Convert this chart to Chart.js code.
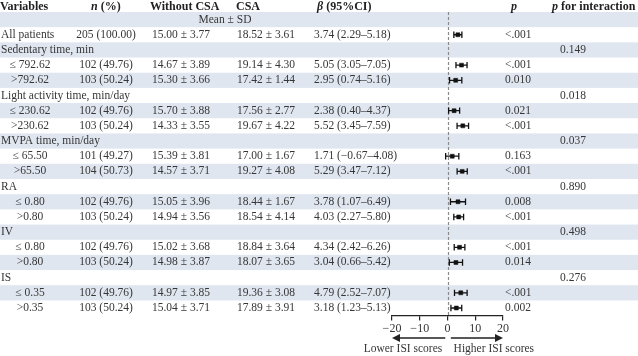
<!DOCTYPE html>
<html>
<head>
<meta charset="utf-8">
<title>Forest plot</title>
<script src="https://cdn.jsdelivr.net/npm/chart.js@4.4.0/dist/chart.umd.min.js"></script>
<style>
    body {
        margin: 0;
        padding: 0;
        background-color: #ffffff;
    }
    #wrap {
        width: 638px;
        height: 356px;
        position: relative;
    }
</style>
</head>
<body>
<div id="wrap"><canvas id="forest" width="638" height="356"></canvas></div>
<script>
// table rows, top to bottom (row 0 is the "Mean ± SD" sub-header)
var rowLabels = ["", "All patients", "Sedentary time, min", "≤ 792.62", ">792.62",
    "Light activity time, min/day", "≤ 230.62", ">230.62", "MVPA time, min/day", "≤ 65.50", ">65.50",
    "RA", "≤ 0.80", ">0.80", "IV", "≤ 0.80", ">0.80", "IS", "≤ 0.35", ">0.35"];
var rowKind = ["", "top", "group", "sub", "sub", "group", "sub", "sub", "group", "sub", "sub",
    "group", "sub", "sub", "group", "sub", "sub", "group", "sub", "sub"];
var nPct = ["", "205 (100.00)", "", "102 (49.76)", "103 (50.24)", "", "102 (49.76)", "103 (50.24)",
    "", "101 (49.27)", "104 (50.73)", "", "102 (49.76)", "103 (50.24)", "", "102 (49.76)", "103 (50.24)",
    "", "102 (49.76)", "103 (50.24)"];
var withoutCSA = ["", "15.00 ± 3.77", "", "14.67 ± 3.89", "15.30 ± 3.66", "", "15.70 ± 3.88", "14.33 ± 3.55",
    "", "15.39 ± 3.81", "14.57 ± 3.71", "", "15.05 ± 3.96", "14.94 ± 3.56", "", "15.02 ± 3.68", "14.98 ± 3.87",
    "", "14.97 ± 3.85", "15.04 ± 3.71"];
var withCSA = ["", "18.52 ± 3.61", "", "19.14 ± 4.30", "17.42 ± 1.44", "", "17.56 ± 2.77", "19.67 ± 4.22",
    "", "17.00 ± 1.67", "19.27 ± 4.08", "", "18.44 ± 1.67", "18.54 ± 4.14", "", "18.84 ± 3.64", "18.07 ± 3.65",
    "", "19.36 ± 3.08", "17.89 ± 3.91"];
var beta = [null, 3.74, null, 5.05, 2.95, null, 2.38, 5.52, null, 1.71, 5.29, null, 3.78, 4.03, null, 4.34, 3.04, null, 4.79, 3.18];
var ciLow = [null, 2.29, null, 3.05, 0.74, null, 0.40, 3.45, null, -0.67, 3.47, null, 1.07, 2.27, null, 2.42, 0.66, null, 2.52, 1.23];
var ciHigh = [null, 5.18, null, 7.05, 5.16, null, 4.37, 7.59, null, 4.08, 7.12, null, 6.49, 5.80, null, 6.26, 5.42, null, 7.07, 5.13];
var pValue = ["", "<.001", "", "<.001", "0.010", "", "0.021", "<.001", "", "0.163", "<.001", "", "0.008", "<.001",
    "", "<.001", "0.014", "", "<.001", "0.002"];
var pInteraction = ["", "", "0.149", "", "", "0.018", "", "", "0.037", "", "", "0.890", "", "", "0.498", "", "", "0.276", "", ""];
var xTicks = [-20, -10, 0, 10, 20];

var FONT = "'Liberation Serif', 'DejaVu Serif', serif";
var TXT = "#363636";

function fmt(v) {
    var s = Math.abs(v).toFixed(2);
    return v < 0 ? "\u2212" + s : s;
}

var meanPts = [], capPts = [], ciLine = [];
for (var i = 0; i < beta.length; i++) {
    if (beta[i] === null) continue;
    meanPts.push({x: beta[i], y: i});
    capPts.push({x: ciLow[i], y: i});
    capPts.push({x: ciHigh[i], y: i});
    ciLine.push({x: ciLow[i], y: i});
    ciLine.push({x: ciHigh[i], y: i});
    ciLine.push({x: null, y: null});
}

// draws a header made of [text, italic] pieces
function drawPieces(ctx, pieces, x, y) {
    for (var k = 0; k < pieces.length; k++) {
        ctx.font = (pieces[k][1] ? "italic " : "") + "bold 12px " + FONT;
        ctx.fillText(pieces[k][0], x, y);
        x += ctx.measureText(pieces[k][0]).width;
    }
}

var tablePlugin = {
    id: "tablePlugin",
    beforeDraw: function(chart) {
        var ctx = chart.ctx, ys = chart.scales.y;
        ctx.save();
        ctx.fillStyle = "#dfe6f0";
        for (var r = 0; r < rowLabels.length; r += 2) {
            var t = ys.getPixelForValue(r - 0.5), b = ys.getPixelForValue(r + 0.5);
            ctx.fillRect(0, t, chart.width, b - t);
        }
        ctx.restore();
    },
    beforeDatasetsDraw: function(chart) {
        var ctx = chart.ctx, xs = chart.scales.x, a = chart.chartArea;
        var x0 = Math.round(xs.getPixelForValue(0)) + 0.5;
        ctx.save();
        ctx.strokeStyle = "#8a8a8a";
        ctx.lineWidth = 1.2;
        ctx.setLineDash([3, 2]);
        ctx.beginPath();
        ctx.moveTo(x0, a.top);
        ctx.lineTo(x0, a.bottom);
        ctx.stroke();
        ctx.restore();
    },
    afterDraw: function(chart) {
        var ctx = chart.ctx, ys = chart.scales.y, xs = chart.scales.x;
        ctx.save();
        ctx.fillStyle = "#222222";
        ctx.textBaseline = "middle";
        var hy = chart.chartArea.top - 5.5;
        ctx.textAlign = "left";
        drawPieces(ctx, [["Variables", false]], 0, hy);
        drawPieces(ctx, [["n", true], [" (%)", false]], 91, hy);
        drawPieces(ctx, [["Without CSA", false]], 150, hy);
        drawPieces(ctx, [["CSA", false]], 236, hy);
        drawPieces(ctx, [["\u03b2", true], [" (95%CI)", false]], 317, hy);
        drawPieces(ctx, [["p", true]], 511, hy);
        drawPieces(ctx, [["p", true], [" for interaction", false]], 552, hy);

        ctx.fillStyle = TXT;
        ctx.font = "11.5px " + FONT;
        ctx.textAlign = "center";
        ctx.fillText("Mean ± SD", 225, ys.getPixelForValue(0));
        for (var r = 1; r < rowLabels.length; r++) {
            var y = ys.getPixelForValue(r);
            if (rowKind[r] === "sub") {
                ctx.textAlign = "center";
                ctx.fillText(rowLabels[r], 30, y);
            } else {
                ctx.textAlign = "left";
                ctx.fillText(rowLabels[r], 1, y);
            }
            ctx.textAlign = "center";
            ctx.fillText(nPct[r], 106, y);
            ctx.fillText(withoutCSA[r], 181, y);
            ctx.fillText(withCSA[r], 266, y);
            ctx.textAlign = "left";
            if (beta[r] !== null) {
                ctx.fillText(fmt(beta[r]) + " (" + fmt(ciLow[r]) + "\u2013" + fmt(ciHigh[r]) + ")", 314, y);
            }
            ctx.fillText(pValue[r], 505, y);
            ctx.fillText(pInteraction[r], 560, y);
        }

        // direction arrows under the axis
        var ay = 338;
        var lA = xs.getPixelForValue(-0.8), lB = xs.getPixelForValue(-20);
        var rA = xs.getPixelForValue(1.2), rB = xs.getPixelForValue(20);
        ctx.strokeStyle = "#222222";
        ctx.fillStyle = "#222222";
        ctx.lineWidth = 1.3;
        ctx.beginPath();
        ctx.moveTo(lA, ay); ctx.lineTo(lB + 6, ay);
        ctx.moveTo(rA, ay); ctx.lineTo(rB - 6, ay);
        ctx.stroke();
        ctx.beginPath();
        ctx.moveTo(lB, ay); ctx.lineTo(lB + 8, ay - 4); ctx.lineTo(lB + 8, ay + 4); ctx.closePath();
        ctx.moveTo(rB, ay); ctx.lineTo(rB - 8, ay - 4); ctx.lineTo(rB - 8, ay + 4); ctx.closePath();
        ctx.fill();

        ctx.fillStyle = TXT;
        ctx.font = "11.5px " + FONT;
        ctx.textAlign = "right";
        ctx.fillText("Lower ISI scores", xs.getPixelForValue(-1.9), 349);
        ctx.textAlign = "left";
        ctx.fillText("Higher ISI scores", xs.getPixelForValue(2.2), 349);
        ctx.restore();
    }
};

var ctx = document.getElementById("forest").getContext("2d");
var forestChart = new Chart(ctx, {
    type: "scatter",
    data: {
        datasets: [{
            label: "95% CI",
            data: ciLine,
            showLine: true,
            spanGaps: false,
            borderColor: "#111111",
            borderWidth: 1.3,
            pointRadius: 0
        }, {
            label: "CI caps",
            data: capPts,
            pointStyle: "line",
            rotation: 90,
            pointRadius: 3.2,
            borderColor: "#111111",
            pointBorderWidth: 1.3
        }, {
            label: "beta",
            data: meanPts,
            pointStyle: "rect",
            pointRadius: 2.8,
            backgroundColor: "#111111",
            borderColor: "#111111",
            pointBorderWidth: 0.5
        }]
    },
    options: {
        responsive: false,
        animation: false,
        layout: {
            padding: {left: 392, right: 135, top: 12, bottom: 19}
        },
        scales: {
            x: {
                type: "linear",
                min: -20,
                max: 20,
                afterBuildTicks: function(scale) {
                    scale.ticks = xTicks.map(function(v) { return {value: v}; });
                },
                ticks: {
                    color: TXT,
                    padding: 1,
                    font: {family: FONT, size: 12},
                    callback: function(v) { return v < 0 ? "\u2212" + Math.abs(v) : String(v); }
                },
                grid: {
                    drawOnChartArea: false,
                    drawTicks: true,
                    tickLength: 5,
                    color: "#222222",
                    lineWidth: 1.2
                },
                border: {display: true, color: "#222222", width: 1.2}
            },
            y: {
                type: "linear",
                min: -0.5,
                max: 19.5,
                reverse: true,
                display: false
            }
        },
        plugins: {
            legend: {display: false},
            tooltip: {enabled: false}
        }
    },
    plugins: [tablePlugin]
});
</script>
</body>
</html>
